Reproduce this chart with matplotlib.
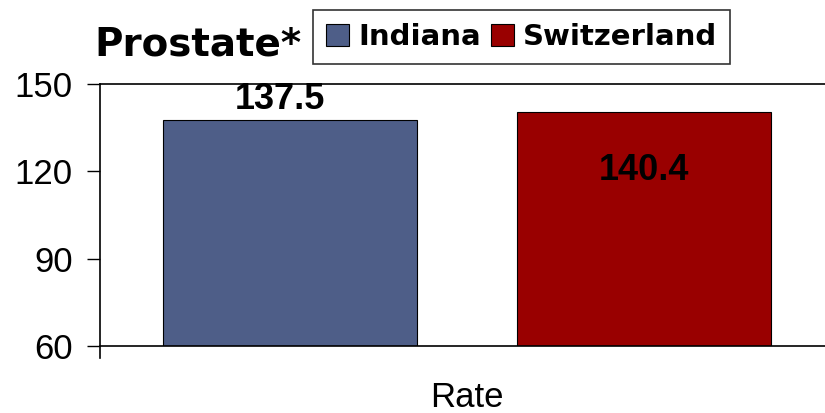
import matplotlib.pyplot as plt
from matplotlib.patches import Patch

# Prostate cancer rate, Indiana vs Switzerland
regions = ['Indiana', 'Switzerland']
rates = [137.5, 140.4]
colors = ['#4E5E88', '#990000']
yticks = [60, 90, 120, 150]

fig = plt.figure(figsize=(8.25, 4.13), dpi=100)
ax = fig.add_axes([0.1212, 0.1622, 0.8897, 0.6344])

x = [0, 1]
ax.bar(x, [r - 60 for r in rates], bottom=60, width=0.717,
       color=colors, edgecolor='black', linewidth=0.8)

ax.set_xlim(-0.537, 1.537)
ax.set_ylim(60, 150)
ax.set_yticks(yticks)
ax.set_yticklabels([str(t) for t in yticks], family='Liberation Sans')
ax.set_xticks([])
ax.tick_params(axis='y', direction='out', length=9.5, width=1, labelsize=25, pad=10)
ax.spines['right'].set_visible(False)
for s in ['left', 'bottom', 'top']:
    ax.spines[s].set_linewidth(1.2)
ax.spines['left'].set_bounds(56, 150)

# value labels: first sits above its bar, second inside
offsets = [(-7, 15), (0, -42)]
for xi, r, off in zip(x, rates, offsets):
    ax.annotate(f'{r}', xy=(xi, r), xytext=off,
                textcoords='offset points', ha='center', va='center',
                fontsize=26, fontweight='bold', family='Liberation Sans')

fig.text(0.566, 0.014, 'Rate', fontsize=25, family='Liberation Sans',
         ha='center', va='baseline')

fig.text(0.115, 0.893, 'Prostate*', fontsize=28, fontweight='bold',
         ha='left', va='center')

handles = [Patch(facecolor=c, edgecolor='black', linewidth=0.8) for c in colors]
leg = fig.legend(handles, regions, loc='upper left', bbox_to_anchor=(0.379, 0.976),
                 ncol=2, frameon=True, fancybox=False, edgecolor='black',
                 prop={'size': 21, 'weight': 'bold'}, handlelength=0.8,
                 handleheight=0.8, handletextpad=0.3, columnspacing=0.35,
                 borderpad=0.45, borderaxespad=0)
leg.get_frame().set_linewidth(1.2)

fig.savefig('out.png', dpi=100)
